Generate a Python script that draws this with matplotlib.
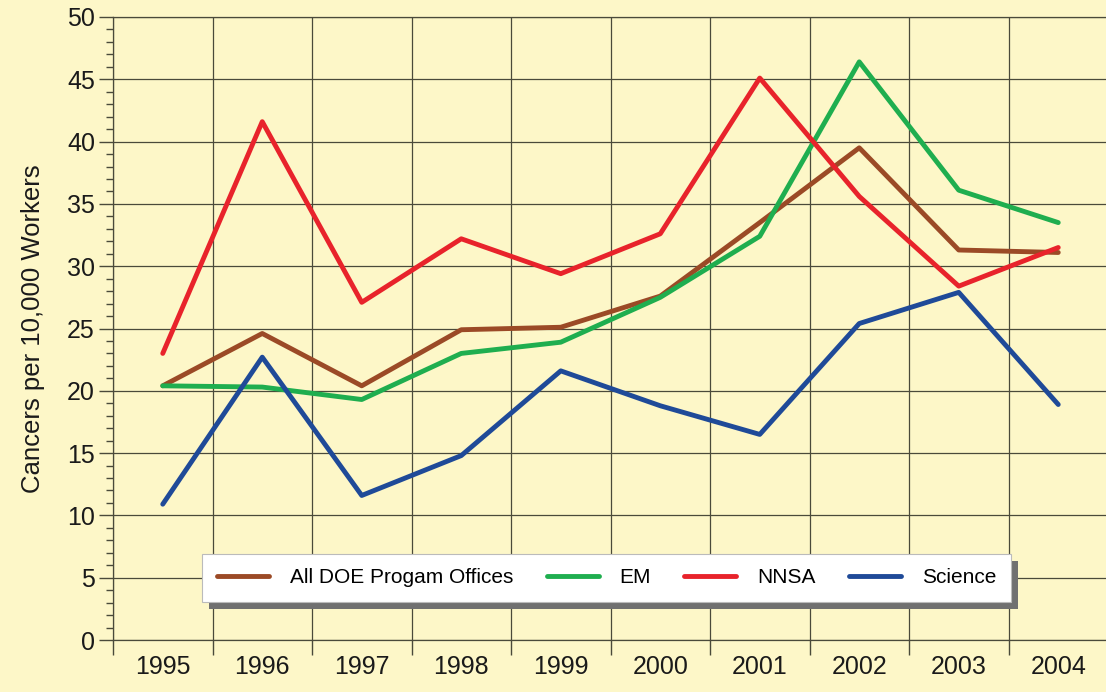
import numpy as np
import matplotlib.pyplot as plt
from matplotlib.patches import Rectangle

plt.rcParams['font.family'] = ['Liberation Sans', 'DejaVu Sans']

# Data
years = [1995, 1996, 1997, 1998, 1999, 2000, 2001, 2002, 2003, 2004]
all_doe = [20.4, 24.6, 20.4, 24.9, 25.1, 27.6, 33.5, 39.5, 31.3, 31.1]
em = [20.4, 20.3, 19.3, 23.0, 23.9, 27.5, 32.4, 46.4, 36.1, 33.5]
nnsa = [23.0, 41.6, 27.1, 32.2, 29.4, 32.6, 45.1, 35.6, 28.4, 31.5]
science = [10.9, 22.7, 11.6, 14.8, 21.6, 18.8, 16.5, 25.4, 27.9, 18.9]

series = [
    ('All DOE Progam Offices', all_doe, '#9b4a26'),
    ('EM', em, '#1fae4f'),
    ('NNSA', nnsa, '#e8232b'),
    ('Science', science, '#1f4a98'),
]

bg = '#fdf7c8'
gridc = '#4a4a3a'

fig = plt.figure(figsize=(11.06, 6.92), dpi=100, facecolor=bg)
ax = fig.add_axes([113 / 1106, 1 - 640 / 692, 1 - 113 / 1106, (640 - 17) / 692])
ax.set_facecolor(bg)

for name, vals, col in series:
    ax.plot(years, vals, color=col, lw=3.5, label=name,
            solid_joinstyle='round', solid_capstyle='round', zorder=3)

ax.set_xlim(1994.5, 1994.5 + 993 / 99.5)
ax.set_ylim(0, 50)

ax.set_xticks(years)
ax.set_xticks(np.arange(1994.5, 2004, 1.0), minor=True)
ax.tick_params(axis='x', which='major', length=0, pad=11, labelsize=18, labelcolor='#1a1a1a')
ax.tick_params(axis='x', which='minor', length=11, width=1, color=gridc, direction='out')

ax.set_yticks(np.arange(0, 51, 5))
ax.set_yticks(np.arange(0, 51, 1), minor=True)
ax.tick_params(axis='y', which='major', length=10, width=1, color=gridc, pad=3,
               labelsize=18, labelcolor='#1a1a1a')
ax.tick_params(axis='y', which='minor', length=5, width=1, color=gridc)

ax.grid(True, axis='x', which='minor', color=gridc, lw=0.9, zorder=1)
ax.grid(True, axis='y', which='major', color=gridc, lw=0.9, zorder=1)
ax.axhline(0, color=gridc, lw=0.9, clip_on=False, zorder=1)
ax.axhline(50, color=gridc, lw=0.9, clip_on=False, zorder=1)
ax.set_axisbelow(True)

for s in ['top', 'right', 'bottom']:
    ax.spines[s].set_visible(False)
ax.spines['left'].set_color(gridc)
ax.spines['left'].set_linewidth(0.9)

ax.set_ylabel('Cancers per 10,000 Workers', fontsize=18.5, color='#1a1a1a', labelpad=16)

leg = ax.legend(loc='center', bbox_to_anchor=(0.497, 0.1), ncol=4, fontsize=15,
                frameon=True, fancybox=False, handlelength=2.5, handletextpad=1.0,
                columnspacing=1.6, borderpad=0.7, facecolor='white',
                edgecolor='#bbbbbb', framealpha=1)
leg.get_frame().set_linewidth(0.8)
leg.set_zorder(6)

# drop shadow behind the legend
fig.canvas.draw()
bb = leg.get_window_extent()
shadow = Rectangle((bb.x0 + 7, bb.y0 - 7), bb.width, bb.height, transform=None,
                   facecolor='#707070', edgecolor='none', zorder=5)
ax.add_artist(shadow)

fig.savefig('out.png', dpi=100, facecolor=bg)
